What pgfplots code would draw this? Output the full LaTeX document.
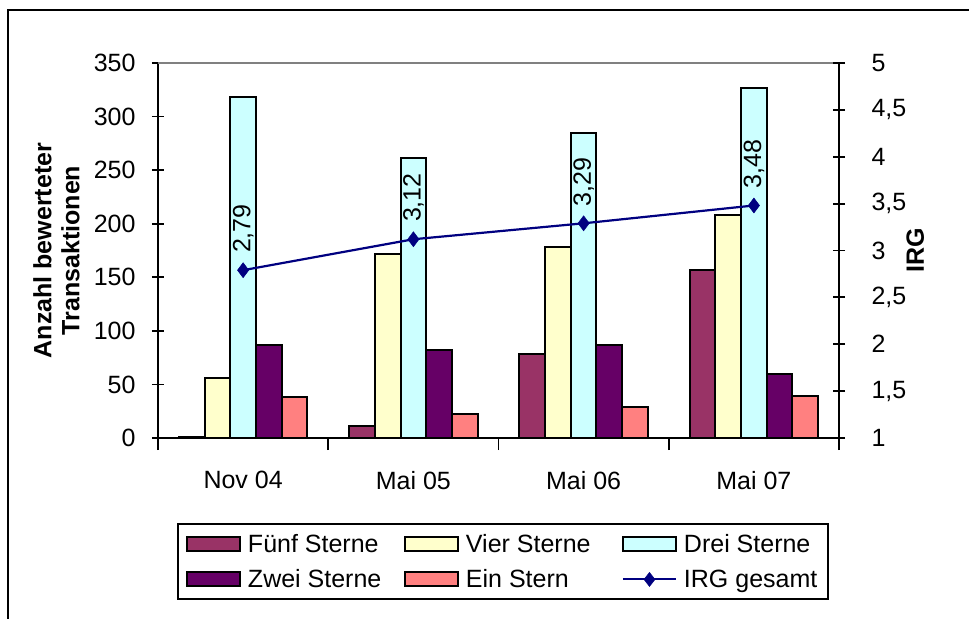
\documentclass[border=0pt]{standalone}
\usepackage{fontspec}
\setmainfont{Liberation Sans}
\usepackage{pgfplots}
\pgfplotsset{compat=1.18}

\definecolor{fuenf}{HTML}{993366}
\definecolor{vier}{HTML}{FFFFCC}
\definecolor{drei}{HTML}{CCFFFF}
\definecolor{zwei}{HTML}{660066}
\definecolor{ein}{HTML}{FF8080}
\definecolor{irg}{HTML}{000080}
\newcommand\cf{\fontsize{25bp}{28bp}\selectfont}

\pgfplotsset{
  common/.style={
    at={(0bp,0bp)}, anchor=south west,
    width=681bp, height=375bp, scale only axis,
    xmin=-0.5, xmax=3.5,
    tick align=center, major tick length=12bp, minor tick length=12bp,
    every tick/.style={black, line width=1.8bp},
    axis line style={line width=2bp, black},
    tick label style={font=\cf},
    /pgf/number format/assume math mode=true,
  },
  bars/.style={draw=black, line width=2bp},
}

\begin{document}
\begin{tikzpicture}
% page area, measured from the lower left corner of the plot area
\path[use as bounding box] (-158bp,-181bp) rectangle (811bp,438bp);
\draw[line width=2bp] (-150bp,-181bp) -- (-150bp,428bp) -- (811bp,428bp);

% bars: number of rated transactions per star class
\begin{axis}[common,
  ymin=0, ymax=350,
  ybar=0pt, bar width=25.7bp,
  axis x line*=bottom, axis y line*=left,
  ytick={0,50,...,350},
  xtick={0,1,2,3}, xticklabels={Nov 04, Mai 05, Mai 06, Mai 07},
  minor xtick={-0.5,0.5,1.5,2.5,3.5},
  major x tick style={draw=none},
  xticklabel shift=18bp, yticklabel shift=13bp,
  ylabel={Anzahl bewerteter\\Transaktionen},
  ylabel style={font=\cf\bfseries, align=center, at={(axis description cs:-0.149,0.5)}, anchor=center},
  legend columns=3, legend cell align=left,
  legend style={at={(axis description cs:0.0279,-0.2267)}, anchor=north west,
    draw=black, line width=2bp, font=\cf, inner xsep=8bp, inner ysep=7bp,
    nodes={inner sep=3bp},
    /tikz/row sep=10bp,
    /tikz/every odd column/.append style={column sep=4bp},
    /tikz/every even column/.append style={column sep=3bp}},
  legend image code/.code={\draw[#1] (0bp,-7bp) rectangle (53bp,7bp);},
]
\addplot[bars, fill=fuenf] coordinates {(0,1) (1,11) (2,78) (3,157)};
\addlegendentry{\makebox[150bp][l]{Fünf Sterne}}
\addplot[bars, fill=vier] coordinates {(0,56) (1,172) (2,178) (3,208)};
\addlegendentry{\makebox[150bp][l]{Vier Sterne}}
\addplot[bars, fill=drei] coordinates {(0,318) (1,261) (2,285) (3,327)};
\addlegendentry{Drei Sterne}
\addplot[bars, fill=zwei] coordinates {(0,87) (1,82) (2,87) (3,60)};
\addlegendentry{\makebox[150bp][l]{Zwei Sterne}}
\addplot[bars, fill=ein] coordinates {(0,38) (1,22) (2,29) (3,39)};
\addlegendentry{\makebox[150bp][l]{Ein Stern}}
\addlegendimage{legend image code/.code={%
  \draw[irg, line width=2bp] (0bp,0bp) -- (53bp,0bp);
  \draw[irg, fill=irg, line width=0.5bp] (26.5bp,7bp) -- (32bp,0bp) -- (26.5bp,-7bp) -- (21bp,0bp) -- cycle;}}
\addlegendentry{IRG gesamt}
\draw[gray, line width=1.8bp] (rel axis cs:0,1) -- (rel axis cs:1,1);
\end{axis}

% line: IRG on the secondary axis
\begin{axis}[common,
  ymin=1, ymax=5,
  axis x line=none, axis y line*=right,
  ytick={1,1.5,...,5},
  yticklabel style={/pgf/number format/.cd, use comma, fixed},
  yticklabel shift=23bp,
  ylabel={IRG},
  ylabel style={font=\cf\bfseries, at={(axis description cs:1.112,0.5)}, anchor=center},
]
\addplot[irg, line width=2.2bp, mark=diamond*, mark size=7.5bp,
  mark options={fill=irg, line width=0.5bp},
  point meta=y,
  nodes near coords={\pgfmathprintnumber[fixed,zerofill,precision=2,use comma]{\pgfplotspointmeta}},
  every node near coord/.append style={font=\cf, black, rotate=90, anchor=west, inner xsep=17bp}]
  coordinates {(0,2.79) (1,3.12) (2,3.29) (3,3.48)};
\end{axis}
\end{tikzpicture}
\end{document}
